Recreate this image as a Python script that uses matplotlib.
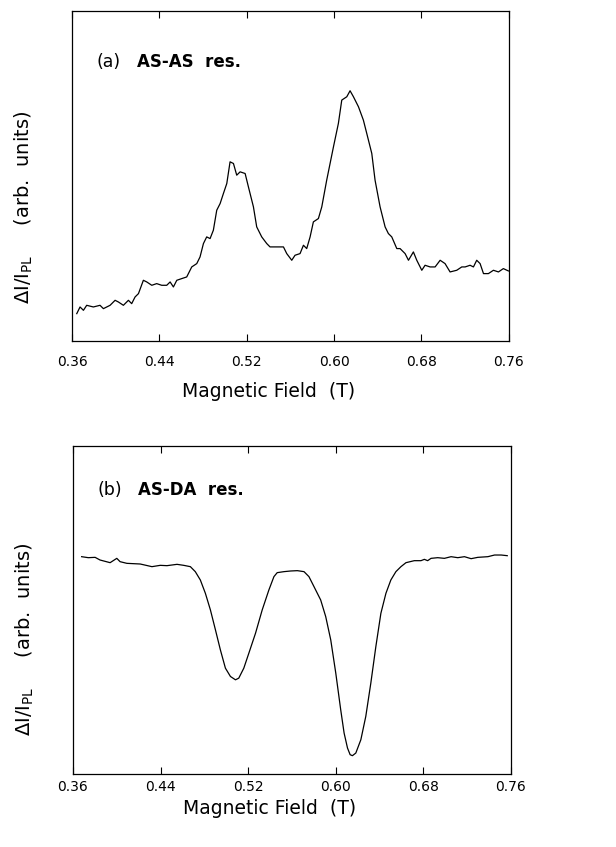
import matplotlib
matplotlib.use("Agg")
import matplotlib.pyplot as plt

# ---- data: panel (a) AS-AS resonance ----
field_a = [0.3643, 0.3673, 0.3704, 0.3734, 0.3795, 0.3856, 0.3887, 0.3948, 0.3994, 0.4024,
           0.4070, 0.4116, 0.4146, 0.4177, 0.4208, 0.4253, 0.4284, 0.4330, 0.4375, 0.4421,
           0.4467, 0.4498, 0.4528, 0.4559, 0.4604, 0.4650, 0.4696, 0.4742, 0.4772, 0.4803,
           0.4833, 0.4864, 0.4894, 0.4925, 0.4956, 0.4986, 0.5017, 0.5047, 0.5078, 0.5108,
           0.5139, 0.5185, 0.5215, 0.5261, 0.5291, 0.5337, 0.5383, 0.5413, 0.5475, 0.5536,
           0.5566, 0.5612, 0.5642, 0.5688, 0.5719, 0.5749, 0.5780, 0.5810, 0.5856, 0.5887,
           0.5932, 0.5994, 0.6039, 0.6070, 0.6116, 0.6146, 0.6177, 0.6223, 0.6268, 0.6299,
           0.6345, 0.6375, 0.6421, 0.6467, 0.6497, 0.6528, 0.6574, 0.6604, 0.6650, 0.6681,
           0.6726, 0.6757, 0.6803, 0.6833, 0.6879, 0.6925, 0.6971, 0.7016, 0.7062, 0.7123,
           0.7169, 0.7200, 0.7245, 0.7276, 0.7306, 0.7337, 0.7368, 0.7413, 0.7459, 0.7505,
           0.7550, 0.7596]
signal_a = [8.3, 10.3, 9.3, 10.8, 10.3, 10.8, 9.8, 10.8, 12.3, 11.8,
            10.8, 12.3, 11.3, 13.3, 14.3, 18.3, 17.8, 16.8, 17.3, 16.8,
            16.8, 17.8, 16.3, 18.3, 18.8, 19.3, 22.3, 23.3, 25.3, 29.3,
            31.3, 30.8, 33.3, 39.3, 41.3, 44.3, 47.3, 53.8, 53.3, 49.8,
            50.8, 50.3, 46.3, 40.3, 34.3, 31.3, 29.3, 28.3, 28.3, 28.3,
            26.3, 24.3, 25.8, 26.3, 28.8, 27.8, 31.3, 35.8, 36.8, 40.3,
            48.3, 58.3, 65.3, 72.3, 73.3, 75.1, 73.3, 70.3, 66.3, 62.3,
            56.3, 48.3, 40.3, 34.3, 32.3, 31.3, 27.8, 27.8, 26.3, 24.3,
            26.8, 24.3, 21.3, 22.8, 22.3, 22.3, 24.3, 23.3, 20.8, 21.3,
            22.3, 22.3, 22.8, 22.3, 24.3, 23.3, 20.3, 20.3, 21.3, 20.8,
            21.8, 21.1]

# ---- data: panel (b) AS-DA resonance ----
field_b = [0.3679, 0.3740, 0.3802, 0.3847, 0.3939, 0.4000, 0.4030, 0.4092, 0.4214, 0.4321,
           0.4397, 0.4458, 0.4550, 0.4611, 0.4672, 0.4717, 0.4763, 0.4809, 0.4855, 0.4901,
           0.4946, 0.4992, 0.5038, 0.5084, 0.5114, 0.5160, 0.5206, 0.5267, 0.5328, 0.5389,
           0.5435, 0.5465, 0.5526, 0.5588, 0.5649, 0.5710, 0.5755, 0.5801, 0.5862, 0.5908,
           0.5954, 0.6000, 0.6045, 0.6076, 0.6107, 0.6131, 0.6152, 0.6183, 0.6229, 0.6274,
           0.6320, 0.6366, 0.6412, 0.6458, 0.6503, 0.6549, 0.6595, 0.6641, 0.6717, 0.6778,
           0.6809, 0.6839, 0.6870, 0.6931, 0.6992, 0.7053, 0.7114, 0.7175, 0.7236, 0.7297,
           0.7389, 0.7450, 0.7511, 0.7566]
signal_b = [65.3, 65.0, 65.1, 64.3, 63.5, 64.8, 63.8, 63.3, 63.1, 62.3,
            62.7, 62.6, 63.0, 62.7, 62.3, 60.8, 58.3, 54.3, 49.3, 43.3,
            37.3, 31.8, 29.3, 28.3, 28.8, 31.8, 36.3, 42.3, 49.3, 55.3,
            59.3, 60.5, 60.8, 61.0, 61.1, 60.8, 59.3, 56.3, 52.3, 47.3,
            40.3, 30.3, 19.3, 12.3, 7.8, 5.8, 5.5, 6.3, 10.3, 17.3,
            27.3, 38.3, 48.3, 54.3, 58.3, 60.8, 62.3, 63.5, 64.1, 64.1,
            64.5, 64.1, 64.8, 65.0, 64.8, 65.3, 65.0, 65.3, 64.7, 65.1,
            65.3, 65.8, 65.8, 65.6]

tick_values = [0.36, 0.44, 0.52, 0.60, 0.68, 0.76]
tick_labels = ["0.36", "0.44", "0.52", "0.60", "0.68", "0.76"]

plt.rcParams['font.family'] = ['DejaVu Sans']

fig = plt.figure(figsize=(6.16, 8.47), dpi=100)
ax1 = fig.add_axes([0.117, 0.597, 0.709, 0.390])
ax2 = fig.add_axes([0.1185, 0.0862, 0.711, 0.387])

ylabel = r"$\Delta$I/I$_{\mathregular{PL}}$     (arb.  units)"

panels = [
    (ax1, field_a, signal_a, (0, 99), "(a)", "AS-AS  res.", 0.845, 0.406, 10, -29),
    (ax2, field_b, signal_b, (0, 98.5), "(b)", "AS-DA  res.", 0.866, 0.41, 4.5, -18),
]

for ax, fx, sy, ylim, tag, name, ty, ly, pad, xlab_off in panels:
    ax.plot(fx, sy, color='black', lw=0.9)
    ax.set_xlim(0.36, 0.76)
    ax.set_ylim(*ylim)
    ax.set_xticks(tick_values)
    ax.set_xticklabels(tick_labels)
    ax.set_yticks([])
    ax.tick_params(axis='x', direction='in', length=5, width=0.8, top=True,
                   labelsize=10, pad=pad)
    for s in ax.spines.values():
        s.set_linewidth(0.9)
    ax.text(0.057, ty, tag, transform=ax.transAxes, fontsize=12.5, va='center', ha='left')
    ax.text(0.149, ty, name, transform=ax.transAxes, fontsize=12, fontweight='bold',
            va='center', ha='left')
    ax.set_ylabel(ylabel, fontsize=14)
    ax.yaxis.set_label_coords(-0.085, ly)
    ax.annotate("Magnetic Field  (T)", xy=(0.449, 0), xycoords='axes fraction',
                xytext=(0, xlab_off), textcoords='offset points',
                ha='center', va='top', fontsize=13.5)

fig.savefig("out.png", dpi=100)
